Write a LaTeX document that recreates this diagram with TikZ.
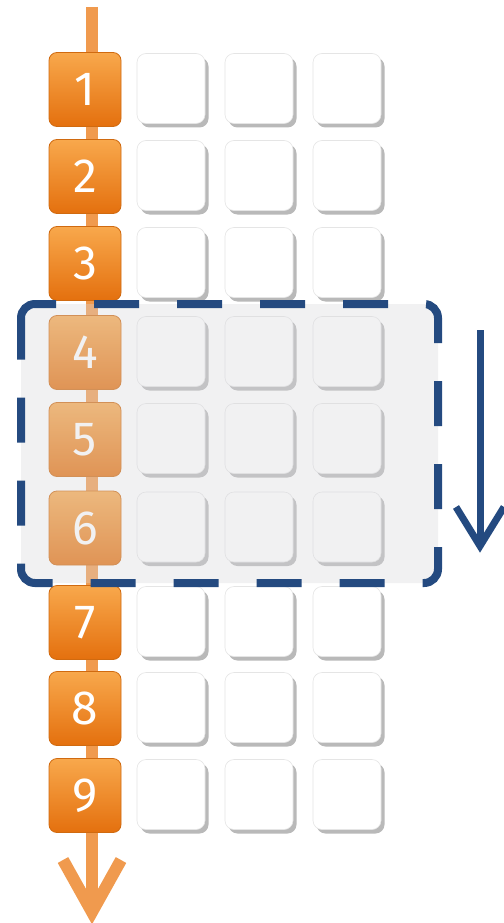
\documentclass[tikz,border=0pt]{standalone}
\usepackage{fontspec}
\newfontfamily\digitfont{Fira Sans}
\usetikzlibrary{shadows}
\definecolor{orTop}{HTML}{F8A84C}
\definecolor{orBot}{HTML}{E4700E}
\definecolor{orEdge}{HTML}{D06A10}
\definecolor{orLine}{HTML}{F09A4E}
\definecolor{navy}{HTML}{244A80}
\definecolor{veil}{HTML}{D8D8DC}
\begin{document}
\begin{tikzpicture}[x=1pt,y=-1pt,
  numbox/.style={rounded corners=8pt, minimum width=72pt, minimum height=74pt,
    top color=orTop, bottom color=orBot, draw=orEdge, line width=0.8pt,
    text=white, font=\digitfont\fontsize{48}{48}\selectfont, inner sep=0pt},
  cell/.style={rounded corners=9pt, minimum width=68pt, minimum height=70pt,
    fill=white, draw=black!10, line width=0.6pt,
    drop shadow={shadow xshift=3.5pt, shadow yshift=-4pt, fill=black!50, opacity=0.55}},
  orline/.style={draw=orLine, line width=12pt},
  bluearrow/.style={draw=navy, line width=7pt, miter limit=10},
  window/.style={draw=navy, line width=8pt, rounded corners=14pt, dash pattern=on 45pt off 38pt}]
\useasboundingbox (0,0) rectangle (503,923);
\fill[white] (0,0) rectangle (503,923);
% orange spine
\coordinate (top) at (92,7);
\coordinate (tip) at (92,912);
\coordinate (armL) at (63,860);
\coordinate (armR) at (121,860);
\draw[orline] (top) -- (tip);
\draw[orline, line join=miter, line cap=butt] (armL) -- (tip) -- (armR);
% rows
\foreach \r/\y in {1/89.5,2/176.5,3/263.5,4/352.5,5/439.5,6/528,7/622.5,8/708.5,9/795.5}{
  \node[numbox] (n\r) at (85,\y) {\r};
  \node[cell] (c\r a) at (171,\y-1) {};
  \node[cell] (c\r b) at (259,\y-1) {};
  \node[cell] (c\r c) at (347,\y-1) {};
}
% translucent window over rows 4-6
\fill[veil, fill opacity=0.35, rounded corners=14pt] (21,304) rectangle (438,583);
\draw[window] (21,330) -- (21,304) -- (438,304) -- (438,583) -- (21,583) -- cycle;
% blue arrow
\coordinate (bt) at (480,330);
\coordinate (bb) at (480,546);
\coordinate (bl) at (456,507);
\coordinate (br) at (504,507);
\draw[bluearrow] (bt) -- (bb);
\draw[bluearrow, line join=miter] (bl) -- (bb) -- (br);
\end{tikzpicture}
\end{document}
